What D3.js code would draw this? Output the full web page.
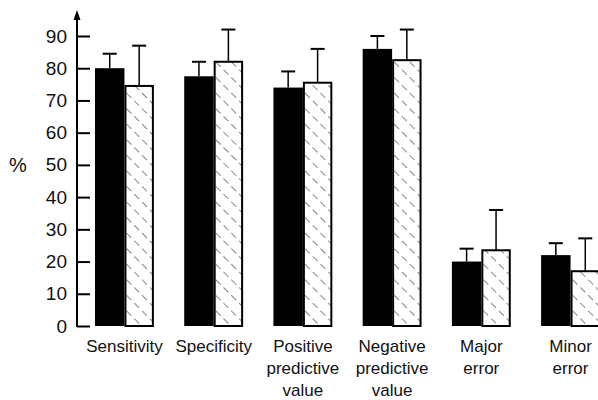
<!DOCTYPE html>
<html>
<head>
    <meta charset="UTF-8">
    <title>Diagnostic accuracy</title>
    <script src="https://d3js.org/d3.v7.min.js"></script>
    <style type="text/css">
      body{
        margin: 0;
        background-color: white;
      }
      svg{
        background-color: white;
        font-family: "Liberation Sans", Arial, sans-serif;
      }
    </style>
</head>
<body>
    <svg id="chart"></svg>

    <script>
        // values (percent)
        const categories = [
          ["Sensitivity"],
          ["Specificity"],
          ["Positive", "predictive", "value"],
          ["Negative", "predictive", "value"],
          ["Major", "error"],
          ["Minor", "error"]
        ];
        const solidValues = [80, 77.5, 74, 86, 20, 22];
        const solidErrors = [4.5, 4.5, 5, 4, 4, 3.7];
        const hatchValues = [74.5, 82, 75.5, 82.5, 23.5, 17];
        const hatchErrors = [12.5, 10, 10.5, 9.5, 12.5, 10.2];
        const yTicks = [0, 10, 20, 30, 40, 50, 60, 70, 80, 90];

        const width = 598;
        const height = 400;

        const svg = d3.select("#chart")
          .attr("width", width)
          .attr("height", height);

        const y_scale = d3.scaleLinear()
          .domain([0, 90])
          .range([326, 36]);

        const x_scale = d3.scaleBand()
          .domain(d3.range(categories.length))
          .range([95, 600])
          .paddingInner(0.34)
          .paddingOuter(0);

        const sub_scale = d3.scaleBand()
          .domain(["solid", "hatch"])
          .range([0, x_scale.bandwidth()]);

        // hatch pattern, lines running top-left to bottom-right
        const pattern = svg.append("defs").append("pattern")
          .attr("id", "hatch")
          .attr("patternUnits", "userSpaceOnUse")
          .attr("width", 11)
          .attr("height", 11)
          .attr("patternTransform", "rotate(-45)");
        pattern.append("line")
          .attr("x1", 0).attr("y1", 0)
          .attr("x2", 0).attr("y2", 11)
          .attr("stroke", "#222")
          .attr("stroke-width", 1.1)
          .attr("stroke-dasharray", "7,4");

        const data = categories.map((c, i) => ({
          i: i,
          label: c,
          solid: solidValues[i],
          solidErr: solidErrors[i],
          hatch: hatchValues[i],
          hatchErr: hatchErrors[i]
        }));

        const groups = svg.selectAll("g.group")
          .data(data)
          .enter()
          .append("g")
          .attr("class", "group")
          .attr("transform", (d) => `translate(${x_scale(d.i)}, 0)`);

        // error bars first so bars sit on top of their base
        const bw = sub_scale.bandwidth();
        [["solid", "solidErr"], ["hatch", "hatchErr"]].forEach(([k, e]) => {
          const cx = sub_scale(k) + bw / 2;
          groups.append("line")
            .attr("x1", cx).attr("x2", cx)
            .attr("y1", (d) => y_scale(d[k]))
            .attr("y2", (d) => y_scale(d[k] + d[e]))
            .attr("stroke", "black")
            .attr("stroke-width", 1.5);
          groups.append("line")
            .attr("x1", cx - 7).attr("x2", cx + 7)
            .attr("y1", (d) => y_scale(d[k] + d[e]))
            .attr("y2", (d) => y_scale(d[k] + d[e]))
            .attr("stroke", "black")
            .attr("stroke-width", 2);
        });

        groups.append("rect")
          .attr("x", sub_scale("solid"))
          .attr("y", (d) => y_scale(d.solid))
          .attr("width", bw)
          .attr("height", (d) => y_scale(0) - y_scale(d.solid))
          .attr("fill", "black");

        groups.append("rect")
          .attr("x", sub_scale("hatch") + 1)
          .attr("y", (d) => y_scale(d.hatch))
          .attr("width", bw - 2)
          .attr("height", (d) => y_scale(0) - y_scale(d.hatch))
          .attr("fill", "url(#hatch)")
          .attr("stroke", "black")
          .attr("stroke-width", 2);

        // category labels
        groups.append("text")
          .attr("text-anchor", "middle")
          .attr("font-size", 17)
          .attr("fill", "#111")
          .selectAll("tspan")
          .data((d) => d.label)
          .enter()
          .append("tspan")
          .attr("x", x_scale.bandwidth() / 2)
          .attr("y", (d, j) => 352 + j * 22)
          .text((d) => d);

        // y axis, ticks pointing inward
        const axis = svg.append("g")
          .attr("transform", "translate(77, 0)")
          .call(d3.axisLeft(y_scale)
            .tickValues(yTicks)
            .tickSize(-13)
            .tickSizeOuter(0)
            .tickPadding(10));
        axis.select(".domain").remove();
        axis.selectAll(".tick line")
          .attr("stroke", "black")
          .attr("stroke-width", 2);
        axis.selectAll(".tick text")
          .attr("font-size", 19)
          .attr("font-family", "Liberation Sans, Arial, sans-serif")
          .attr("fill", "#111");

        svg.append("line")
          .attr("x1", 77).attr("x2", 77)
          .attr("y1", y_scale(0) + 1)
          .attr("y2", 16)
          .attr("stroke", "black")
          .attr("stroke-width", 2);
        svg.append("path")
          .attr("d", "M77,10 L73.5,20 L80.5,20 Z")
          .attr("fill", "black");

        svg.append("text")
          .attr("x", 18)
          .attr("y", y_scale(50))
          .attr("dy", "0.35em")
          .attr("text-anchor", "middle")
          .attr("font-size", 20)
          .attr("fill", "#111")
          .text("%");
    </script>
</body>
</html>
